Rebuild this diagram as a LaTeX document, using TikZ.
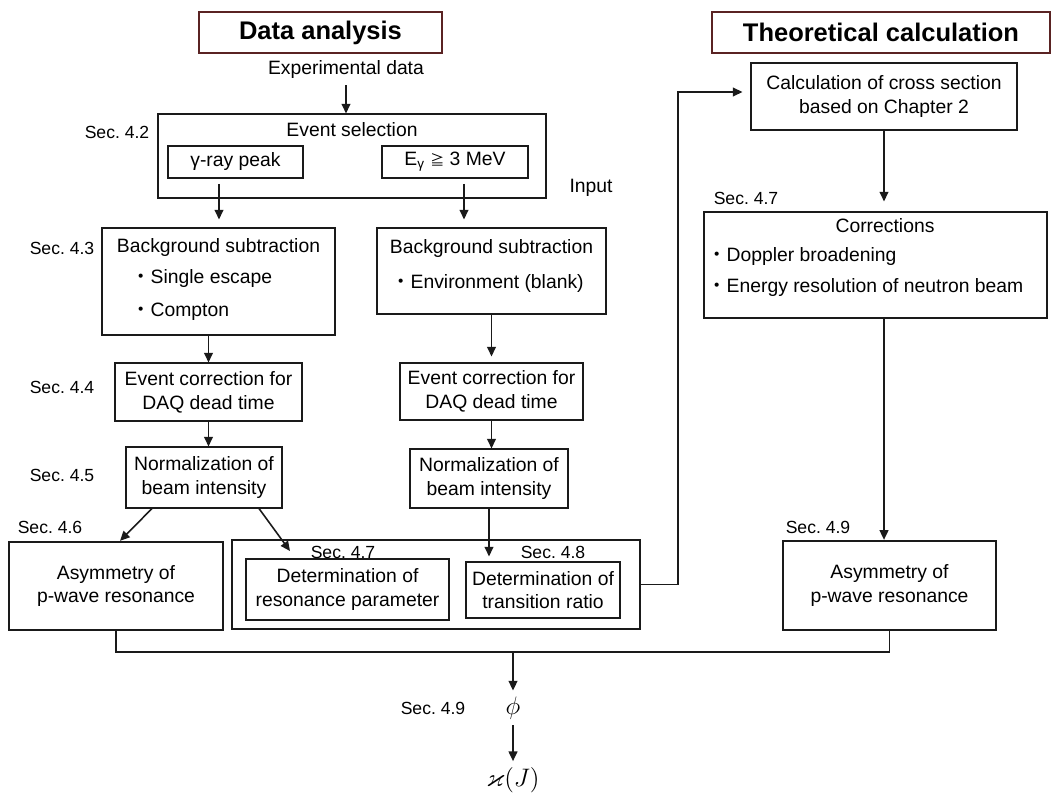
\documentclass[tikz,border=0pt]{standalone}
\usepackage{fontspec}
\setmainfont{Liberation Sans}
\newfontfamily\cjk{Noto Sans CJK JP}
\usepackage{amssymb}
\usetikzlibrary{positioning,arrows.meta}
\definecolor{ink}{HTML}{1A1A1A}
\definecolor{hdred}{HTML}{5A2323}
\newcommand{\kdot}{{\cjk ・}}
\frenchspacing

\begin{document}
\begin{tikzpicture}[x=0.2mm, y=-0.2mm, font=\fontsize{11}{13.5}\selectfont,
  >={Triangle[length=5.5pt,width=5pt]},
  bx/.style 2 args={draw=ink, line width=0.6pt, minimum width=#1*0.2mm,
            minimum height=#2*0.2mm, inner sep=0pt, align=center},
  bigbx/.style 2 args={bx={#1}{#2}, line width=1.3pt},
  head/.style 2 args={bx={#1}{#2}, draw=hdred, fill=white,
            font=\fontsize{14.5}{16}\selectfont\bfseries},
  sec/.style={font=\fontsize{10}{12}\selectfont, inner sep=0pt},
  item/.style={anchor=west, inner sep=0pt},
  flow/.style={->, line width=0.9pt, draw=ink}]
\useasboundingbox (0,0) rectangle (1054,794);
% -- headers
\node[head={243}{41}] (hda) at (320.5,32.5) {Data analysis};
\node[head={338}{41}] (htc) at (881,32.5) {Theoretical calculation};
% -- event selection
\node (exp) at (346,70) {Experimental data};
\node[bx={388}{84}] (sel) at (352,156) {};
\node[inner sep=0pt] (selt) at (352,130) {Event selection};
\node[bx={135}{32}] (gam) at (235.5,162) {γ-ray peak};
\node[bx={146}{32}] (egam) at (455,162)
  {E\textsubscript{γ} {\cjk\fontsize{8}{10}\selectfont ≧} 3 MeV};
\coordinate (gl) at (219,184);
\coordinate (gr) at (464,184);
% -- background subtraction
\node[bx={233}{107}] (bgl) at (218.5,281.5) {};
\node[inner sep=0pt] at (218.5,248) {Background subtraction};
\node[item] at (131,279) {\kdot Single escape};
\node[item] at (131,312) {\kdot Compton};
\node[bx={229}{86}] (bgr) at (491.5,271) {};
\node[inner sep=0pt] at (491.5,249) {Background subtraction};
\node[item] at (391,283) {\kdot Environment (blank)};
% -- dead time and beam normalization
\node[bx={187}{58}] (ecl) at (208.5,392) {Event correction for\\DAQ dead time};
\node[bx={183}{57}] (ecr) at (491.5,391.5) {Event correction for\\DAQ dead time};
\node[bx={156}{61}] (nrl) at (204,477.5) {Normalization of\\beam intensity};
\node[bx={158}{59}] (nrr) at (489,478.5) {Normalization of\\beam intensity};
% -- analysis results
\node[bigbx={214}{88}] (asl) at (116,586) {Asymmetry of\\p-wave resonance};
\node[bigbx={408}{89}] (mid) at (436,584.5) {};
\node[bx={203}{61}] (res) at (347.5,589.5) {Determination of\\resonance parameter};
\node[bx={154}{56}] (trr) at (543,590) {Determination of\\transition ratio};
\coordinate (p47) at (290,551);
% -- theory side
\node[bx={266}{67}] (calc) at (884,96.5) {Calculation of cross section\\based on Chapter 2};
\node[bx={343}{106}] (corr) at (875.5,265) {};
\node[inner sep=0pt] at (885,226) {Corrections};
\node[item] at (707,257) {\kdot Doppler broadening};
\node[item] at (707,288) {\kdot Energy resolution of neutron beam};
\node[bigbx={213}{89}] (asr) at (889.5,585.5) {Asymmetry of\\p-wave resonance};
\node at (591,188) {Input};
\coordinate (fb) at (678,92);
% -- section tags
\node[sec] at (117,132) {Sec. 4.2};
\node[sec] at (62,248) {Sec. 4.3};
\node[sec] at (62,387) {Sec. 4.4};
\node[sec] at (62,475) {Sec. 4.5};
\node[sec] at (50,527) {Sec. 4.6};
\node[sec] at (343,552) {Sec. 4.7};
\node[sec] at (553,552) {Sec. 4.8};
\node[sec] at (746,198) {Sec. 4.7};
\node[sec] at (818,527) {Sec. 4.9};
\node[sec] at (433,708) {Sec. 4.9};
% -- result
\coordinate (mrg) at (513,651);
\node (phi) at (513,708) {\Large$\phi$};
\node (kap) at (513,780) {\Large$\varkappa(J)$};
% -- connectors
\draw[flow] (exp.south) -- (exp.south |- sel.north);
\draw[flow, shorten >=1.6mm] (gl) -- (gl |- bgl.north);
\draw[flow, shorten >=1.6mm] (gr) -- (gr |- bgr.north);
\draw[flow] (ecl.north |- bgl.south) -- (ecl.north);
\draw[flow] (ecl.south) -- (ecl.south |- nrl.north);
\draw[flow, shorten >=1.2mm] (bgr.south) -- (bgr.south |- ecr.north);
\draw[flow] (ecr.south) -- (ecr.south |- nrr.north);
\draw[flow, shorten >=1mm] (nrr.south) -- (nrr.south |- trr.north);
\draw[flow] (152,0 |- nrl.south) -- (120,0 |- asl.north);
\draw[flow] (259,0 |- nrl.south) -- (p47);
\draw[flow, shorten >=1.6mm] (mid.east) -| (fb) -- (fb -| calc.west);
\draw[flow, shorten >=2mm] (calc.south) -- (calc.south |- corr.north);
\draw[flow] (corr.south -| calc.south) -- (asr.north -| calc.south);
\draw[line width=0.9pt, draw=ink] (asl.south) -- ++(0,21) -| (asr.south);
\draw[flow] (mrg) -- (phi);
\draw[flow] (phi) -- (kap);
\end{tikzpicture}
\end{document}
